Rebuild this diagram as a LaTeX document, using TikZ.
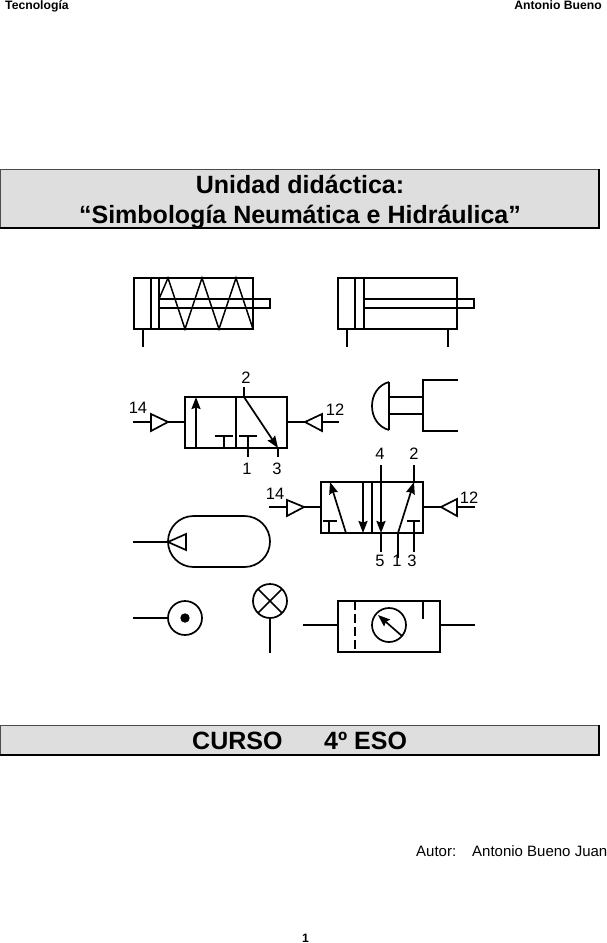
\documentclass[tikz,border=0pt]{standalone}
\usepackage{fontspec}
\setmainfont{Liberation Sans}
\usetikzlibrary{arrows.meta}
\tikzset{
  sym/.style={line width=1.7pt,line cap=butt,line join=miter,black},
  tip/.style={-{Stealth[length=12pt,width=9pt,inset=1.5pt]}},
  banner/.style={fill=black!13,draw=black!70,line width=0.8pt},
  bannershadow/.style={draw=black,line width=2pt},
  lab/.style={font=\fontsize{16.5}{16}\selectfont,inner sep=0pt,anchor=center},
  title/.style={font=\fontsize{25}{30}\selectfont\bfseries,inner sep=0pt,anchor=base},
  small/.style={font=\fontsize{12.2}{14}\selectfont\bfseries,inner sep=0pt,anchor=base},
  autor/.style={font=\fontsize{15}{16}\selectfont,inner sep=0pt,anchor=base west}
}
\begin{document}
\begin{tikzpicture}[x=1pt,y=-1pt]
\useasboundingbox (0,0) rectangle (607,943);
% header / footer
\node[small,anchor=base west] (hl) at (5,9.6) {Tecnología};
\node[small,anchor=base east] (hr) at (602,9.6) {Antonio Bueno};
\node[small] (pg) at (305.5,942) {1};
% title banner
\draw[banner] (0.5,169.5) rectangle (598,228);
\draw[bannershadow] (0,228) -- (598.5,228) -- (598.5,169);
\node[title] (t1) at (300,193) {Unidad didáctica:};
\node[title] (t2) at (300,223) {“Simbología Neumática e Hidráulica”};
% course banner
\draw[banner] (0.5,725.5) rectangle (598,754.5);
\draw[bannershadow] (0,754.5) -- (598.5,754.5) -- (598.5,725);
\node[title,anchor=base west] (c1) at (192,749) {CURSO};
\node[title,anchor=base west] (c2) at (324,749) {4º ESO};
% author
\node[autor] (a1) at (416,856) {Autor:};
\node[autor] (a2) at (472,856) {Antonio Bueno Juan};
% cylinder with spring
\begin{scope}[sym]
\draw (134,278) rectangle (253,329);
\draw (151,278) -- (151,329) (159,278) -- (159,329);
\draw (159,299) -- (270,299) -- (270,308) -- (159,308);
\draw (143,329) -- (143,347);
\draw[line width=1.5pt] (159,299) -- (168,278) -- (185,329) -- (202,278) -- (219,329) -- (236,278) -- (253,329);
% double cylinder
\draw (338,278) rectangle (457,329);
\draw (355,278) -- (355,329) (364,278) -- (364,329);
\draw (364,299) -- (474,299) -- (474,308) -- (364,308);
\draw (347,329) -- (347,347) (448,329) -- (448,347);
% 3/2 valve
\draw (185,397) rectangle (287,448);
\draw (236,397) -- (236,448);
\draw[tip] (196,448) -- (196,397);
\draw (215,436) -- (233,436) (224,436) -- (224,448);
\draw (239,436) -- (257,436);
\draw[line width=1.3pt] (248,436) -- (248,457);
\draw[tip] (244,397) -- (278,448);
\draw (244,387) -- (244,397);
\draw[line width=1.3pt] (278,448) -- (278,457);
\draw (133,422) -- (151,422) (168,422) -- (185,422);
\draw (151,414) -- (168,422) -- (151,431) -- cycle;
\draw (287,422) -- (305,422) (322,422) -- (339,422);
\draw (322,414) -- (305,422) -- (322,431) -- cycle;
% push button
\draw (389,382) -- (389,430);
\draw (389,382) .. controls (378,385) and (372,395) .. (372,406) .. controls (372,417) and (378,427) .. (389,430);
\draw (389,397) -- (423,397) (389,414) -- (423,414);
\draw (458,380) -- (423,380) -- (423,431) -- (458,431);
% 5/2 valve
\draw (321,482) rectangle (423,533);
\draw[tip] (363,482) -- (363,533);
\draw (372,482) -- (372,533);
\draw[tip] (381,465) -- (381,533);
\draw (381,533) -- (381,552);
\draw[tip] (346,533) -- (330,482);
\draw[tip] (398,533) -- (414,482);
\draw (414,465) -- (414,482);
\draw (398,533) -- (398,558);
\draw (407,521) -- (420,521) (414,521) -- (414,552);
\draw (323,521) -- (337,521) (329,521) -- (329,533);
\draw (269,507) -- (287,507) (304,507) -- (321,507);
\draw (287,500) -- (304,507) -- (287,516) -- cycle;
\draw (423,507) -- (441,507) (457,507) -- (475,507);
\draw (457,499) -- (441,507) -- (457,516) -- cycle;
% tank
\draw[rounded corners=25.5pt] (168,516) rectangle (270,567);
\draw (133,542) -- (168,542);
\draw (186,534) -- (168,542) -- (186,550) -- cycle;
% filter circle
\draw (185,618) circle[radius=17pt];
\fill (185,618) circle[radius=4.7pt];
\draw (133,618) -- (168,618);
% lamp
\draw (270,601) circle[radius=17pt];
\draw (258,589) -- (282,613) (258,613) -- (282,589);
\draw (270,618) -- (270,653);
% gauge box
\draw (338,601) rectangle (440,652);
\draw[dash pattern=on 9pt off 4pt] (355,601) -- (355,652);
\draw (389,625) circle[radius=17pt];
\draw[tip] (402,636) -- (378,615);
\draw[line width=1.3pt] (423,601) -- (423,619);
\draw (303,625) -- (338,625) (440,625) -- (475,625);
\end{scope}
% labels
\node[lab] (n2a) at (246,378) {2};
\node[lab] (n1a) at (247,469) {1};
\node[lab] (n3a) at (277,469) {3};
\node[lab] (n14a) at (138,408) {14};
\node[lab] (n12a) at (335,410) {12};
\node[lab] (n4b) at (380,454) {4};
\node[lab] (n2b) at (414,454) {2};
\node[lab] (n5b) at (380,561) {5};
\node[lab] (n1b) at (397,561) {1};
\node[lab] (n3b) at (412,561) {3};
\node[lab] (n14b) at (275,494) {14};
\node[lab] (n12b) at (469,498) {12};
\end{tikzpicture}
\end{document}
